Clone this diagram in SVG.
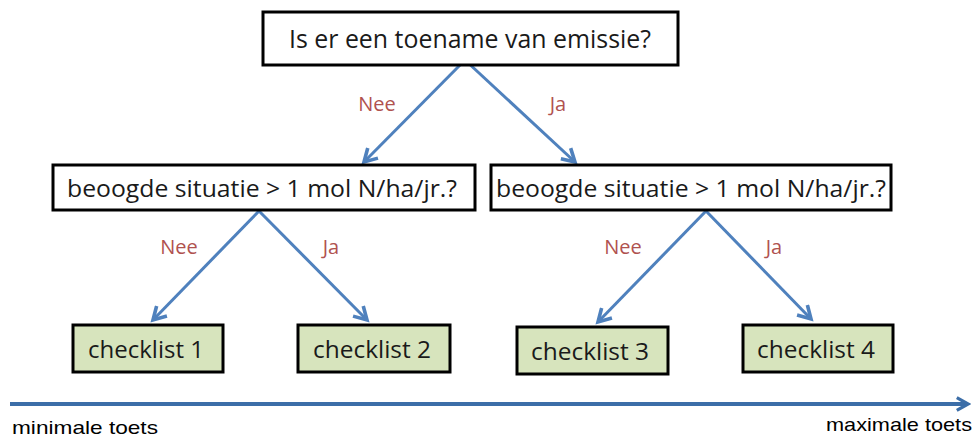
<svg xmlns="http://www.w3.org/2000/svg" width="976" height="439" viewBox="0 0 976 439">
<style>
.box{fill:#fff;stroke:#000;stroke-width:3}
.chk{fill:#d7e4bd;stroke:#000;stroke-width:3}
.t{font-family:"Open Sans","Liberation Sans",sans-serif;fill:#1a1a1a}
.lbl{font-family:"Open Sans","Liberation Sans",sans-serif;fill:#b0524f;font-size:20px}
.con{stroke:#4f81bd;stroke-width:3;fill:none}
.ax{font-family:"Liberation Sans Narrow","Liberation Sans",sans-serif;font-size:19px;fill:#000}
</style>
<defs>
<marker id="ah" viewBox="0 0 10 10" refX="8" refY="5" markerWidth="6" markerHeight="6" orient="auto" markerUnits="strokeWidth">
<polyline points="1,1 8,5 1,9" fill="none" stroke="#4f81bd" stroke-width="2"/>
</marker>
<marker id="ah2" viewBox="0 0 10 10" refX="8" refY="5" markerWidth="4" markerHeight="4" orient="auto" markerUnits="strokeWidth">
<polyline points="1,1 8,5 1,9" fill="none" stroke="#3c6ea8" stroke-width="2"/>
</marker>
</defs>
<g id="connectors">
<line class="con" x1="465" y1="60" x2="364" y2="162" marker-end="url(#ah)"/>
<line class="con" x1="465" y1="60" x2="575" y2="162" marker-end="url(#ah)"/>
<line class="con" x1="259" y1="211" x2="153" y2="320" marker-end="url(#ah)"/>
<line class="con" x1="259" y1="211" x2="367" y2="320" marker-end="url(#ah)"/>
<line class="con" x1="706" y1="211" x2="598" y2="322" marker-end="url(#ah)"/>
<line class="con" x1="706" y1="211" x2="811" y2="319" marker-end="url(#ah)"/>
<line x1="10" y1="404" x2="968" y2="404" stroke="#3c6ea8" stroke-width="4" marker-end="url(#ah2)"/>
</g>
<g id="q1">
<rect class="box" x="263" y="12" width="415" height="53"/>
<text class="t" x="470" y="48" font-size="25" text-anchor="middle" textLength="362" lengthAdjust="spacingAndGlyphs">Is er een toename van emissie?</text>
</g>
<g id="q2a">
<rect class="box" x="53" y="165" width="422" height="45"/>
<text class="t" x="262" y="197" font-size="24" text-anchor="middle" textLength="390" lengthAdjust="spacingAndGlyphs">beoogde situatie &gt; 1 mol N/ha/jr.?</text>
</g>
<g id="q2b">
<rect class="box" x="491" y="165" width="400" height="45"/>
<text class="t" x="691" y="197" font-size="24" text-anchor="middle" textLength="390" lengthAdjust="spacingAndGlyphs">beoogde situatie &gt; 1 mol N/ha/jr.?</text>
</g>
<g id="c1">
<rect class="chk" x="73" y="325" width="150" height="47"/>
<text class="t" x="146" y="358" font-size="24" text-anchor="middle" textLength="116" lengthAdjust="spacingAndGlyphs">checklist 1</text>
</g>
<g id="c2">
<rect class="chk" x="298" y="325" width="152" height="47"/>
<text class="t" x="372" y="358" font-size="24" text-anchor="middle" textLength="118" lengthAdjust="spacingAndGlyphs">checklist 2</text>
</g>
<g id="c3">
<rect class="chk" x="517" y="327" width="151" height="47"/>
<text class="t" x="590" y="360" font-size="24" text-anchor="middle" textLength="118" lengthAdjust="spacingAndGlyphs">checklist 3</text>
</g>
<g id="c4">
<rect class="chk" x="743" y="325" width="150" height="47"/>
<text class="t" x="816" y="358" font-size="24" text-anchor="middle" textLength="118" lengthAdjust="spacingAndGlyphs">checklist 4</text>
</g>
<g id="labels">
<text class="lbl" x="377" y="111" text-anchor="middle">Nee</text>
<text class="lbl" x="558" y="111" text-anchor="middle">Ja</text>
<text class="lbl" x="179" y="254" text-anchor="middle">Nee</text>
<text class="lbl" x="331" y="254" text-anchor="middle">Ja</text>
<text class="lbl" x="623" y="254" text-anchor="middle">Nee</text>
<text class="lbl" x="774" y="254" text-anchor="middle">Ja</text>
<text class="ax" x="12" y="434" textLength="146" lengthAdjust="spacingAndGlyphs">minimale toets</text>
<text class="ax" x="972" y="431" text-anchor="end" textLength="146" lengthAdjust="spacingAndGlyphs">maximale toets</text>
</g>
</svg>
